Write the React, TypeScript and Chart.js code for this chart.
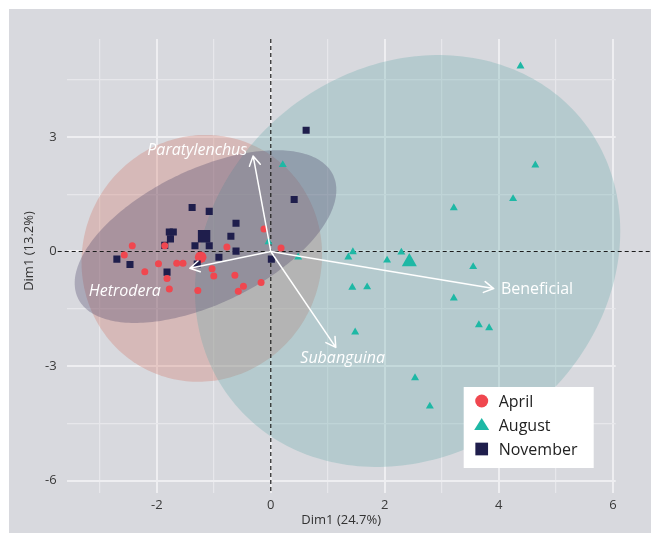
import React, { useEffect, useRef } from 'react';
import { Chart, registerables } from 'chart.js';

Chart.register(...registerables);

// ---------- data ----------
const seriesNames = ['April', 'August', 'November'];

const aprilX = [-0.12, -2.43, -1.86, -0.77, 0.18, -2.57, -1.97, -1.65, -1.54, -2.21, -1.03, -1.82, -1.0, -0.63, -0.17, -0.48, -0.57, -1.28, -1.78];
const aprilY = [0.59, 0.15, 0.15, 0.12, 0.09, -0.09, -0.32, -0.31, -0.31, -0.53, -0.45, -0.71, -0.64, -0.62, -0.81, -0.91, -1.04, -1.02, -0.98];

const augustX = [4.38, 4.64, 4.25, 3.21, 0.21, -0.04, 0.48, 1.44, 1.36, 2.04, 2.29, 3.55, 1.43, 1.69, 3.21, 3.65, 3.83, 1.48, 2.53, 2.79];
const augustY = [4.85, 2.26, 1.38, 1.14, 2.27, 0.25, -0.15, -0.01, -0.15, -0.23, -0.02, -0.4, -0.94, -0.93, -1.22, -1.92, -2.0, -2.11, -3.31, -4.05];

const novemberX = [0.62, 0.41, -1.38, -1.08, -0.61, -1.78, -1.71, -1.76, -0.7, -1.86, -1.33, -1.08, -0.61, -0.91, 0.01, -2.7, -2.47, -1.29, -1.82];
const novemberY = [3.17, 1.36, 1.15, 1.05, 0.74, 0.51, 0.51, 0.33, 0.4, 0.16, 0.15, 0.15, 0.01, -0.15, -0.2, -0.2, -0.34, -0.33, -0.54];

// group centroids (April, August, November)
const centroidX = [-1.23, 2.43, -1.17];
const centroidY = [-0.15, -0.27, 0.4];

// confidence ellipses (data units): centre, half-extent in x and y, correlation
const ellipseCX = [-1.21, 2.4, -1.145];
const ellipseCY = [-0.18, -0.25, 0.39];
const ellipseSX = [2.11, 3.73, 2.295];
const ellipseSY = [3.23, 5.39, 2.26];
const ellipseRho = [0.03, 0.145, 0.54];

// variable loadings (arrows)
const varNames = ['Paratylenchus', 'Beneficial', 'Subanguina', 'Hetrodera'];
const varX = [-0.31, 3.91, 1.14, -1.42];
const varY = [2.5, -0.97, -2.51, -0.44];
const varLabelX = [-1.29, 4.67, 1.26, -2.56];
const varLabelY = [2.65, -0.99, -2.79, -1.04];

// axes
const xRange = [-3.58, 6.05];
const yRange = [-6.32, 5.56];
const xTickLabels = ['-2', '0', '2', '4', '6'];
const yTickLabels = ['-6', '-3', '0', '3'];
const xTitle = 'Dim1 (24.7%)';
const yTitle = 'Dim1 (13.2%)';

// ---------- styles ----------
const FONT = '"Open Sans", "DejaVu Sans", sans-serif';
const pointColors = ['#F0474F', '#1EB8A5', '#1F1E4C'];
const pointShapes = ['circle', 'triangle', 'rect'];
const pointSizes = [3.5, 4.6, 5];
const centroidSizes = [5.8, 8.7, 8.8];
const ellipseFills = ['rgba(209,114,95,0.30)', 'rgba(99,170,169,0.30)', 'rgba(70,60,100,0.31)'];
const italicLabels = [true, false, true, true];

const toPts = (xs: number[], ys: number[]) => xs.map((x, i) => ({ x, y: ys[i] }));

const isLabelled = (v: number, labels: string[]) =>
  labels.includes(String(Math.round(v * 1000) / 1000));

function drawMarker(ctx: CanvasRenderingContext2D, shape: string, x: number, y: number, s: number, color: string) {
  ctx.fillStyle = color;
  ctx.beginPath();
  if (shape === 'circle') {
    ctx.arc(x, y, s / 2, 0, Math.PI * 2);
  } else if (shape === 'triangle') {
    const h = s * 0.8;
    ctx.moveTo(x, y - (h * 2) / 3);
    ctx.lineTo(x + s / 2, y + h / 3);
    ctx.lineTo(x - s / 2, y + h / 3);
    ctx.closePath();
  } else {
    ctx.rect(x - s / 2, y - s / 2, s, s);
  }
  ctx.fill();
}

const biplotPlugin = {
  id: 'biplot',
  beforeDatasetsDraw(chart: any) {
    const { ctx, chartArea, scales } = chart;
    const xs = scales.x;
    const ys = scales.y;
    ctx.save();
    // ellipses
    for (let g = 0; g < ellipseCX.length; g++) {
      const phi = Math.asin(ellipseRho[g]);
      ctx.beginPath();
      for (let i = 0; i <= 240; i++) {
        const t = (i / 240) * Math.PI * 2;
        const px = xs.getPixelForValue(ellipseCX[g] + ellipseSX[g] * Math.cos(t));
        const py = ys.getPixelForValue(ellipseCY[g] + ellipseSY[g] * Math.sin(t + phi));
        if (i === 0) ctx.moveTo(px, py);
        else ctx.lineTo(px, py);
      }
      ctx.closePath();
      ctx.fillStyle = ellipseFills[g];
      ctx.fill();
    }
    // dashed zero lines
    const x0 = xs.getPixelForValue(0);
    const y0 = ys.getPixelForValue(0);
    ctx.strokeStyle = '#1c1c1c';
    ctx.lineWidth = 1.2;
    ctx.setLineDash([4, 3]);
    ctx.beginPath();
    ctx.moveTo(x0, chartArea.top);
    ctx.lineTo(x0, chartArea.bottom);
    ctx.moveTo(chartArea.left - 9, y0);
    ctx.lineTo(chart.width, y0);
    ctx.stroke();
    ctx.restore();
  },
  afterDatasetsDraw(chart: any) {
    const { ctx, chartArea, scales } = chart;
    const xs = scales.x;
    const ys = scales.y;
    ctx.save();
    // arrows
    const ox = xs.getPixelForValue(0);
    const oy = ys.getPixelForValue(0);
    ctx.strokeStyle = '#ffffff';
    ctx.lineWidth = 1.5;
    ctx.lineCap = 'round';
    ctx.lineJoin = 'round';
    for (let i = 0; i < varNames.length; i++) {
      const tx = xs.getPixelForValue(varX[i]);
      const ty = ys.getPixelForValue(varY[i]);
      const a = Math.atan2(ty - oy, tx - ox);
      const len = 11;
      const spread = Math.PI / 6;
      ctx.beginPath();
      ctx.moveTo(ox, oy);
      ctx.lineTo(tx, ty);
      ctx.moveTo(tx - len * Math.cos(a - spread), ty - len * Math.sin(a - spread));
      ctx.lineTo(tx, ty);
      ctx.lineTo(tx - len * Math.cos(a + spread), ty - len * Math.sin(a + spread));
      ctx.stroke();
    }
    // labels
    ctx.fillStyle = '#ffffff';
    ctx.textAlign = 'center';
    ctx.textBaseline = 'middle';
    for (let i = 0; i < varNames.length; i++) {
      ctx.font = `${italicLabels[i] ? 'italic ' : ''}16px ${FONT}`;
      ctx.fillText(varNames[i], xs.getPixelForValue(varLabelX[i]), ys.getPixelForValue(varLabelY[i]));
    }
    // legend
    const bw = 130;
    const bh = 81;
    const bx = chartArea.right - 22 - bw;
    const by = chartArea.bottom - 25 - bh;
    ctx.fillStyle = '#ffffff';
    ctx.fillRect(bx, by, bw, bh);
    const legendMarker = [13, 15, 12.7];
    for (let i = 0; i < seriesNames.length; i++) {
      const cy = by + 14 + i * 24;
      drawMarker(ctx, pointShapes[i], bx + 18, cy + (i === 1 ? 1 : 0), legendMarker[i], pointColors[i]);
      ctx.fillStyle = '#222222';
      ctx.font = `16px ${FONT}`;
      ctx.textAlign = 'left';
      ctx.textBaseline = 'middle';
      ctx.fillText(seriesNames[i], bx + 35, cy + 1);
    }
    // axis titles
    ctx.fillStyle = '#333333';
    ctx.font = `13px ${FONT}`;
    ctx.textAlign = 'center';
    ctx.textBaseline = 'middle';
    ctx.fillText(xTitle, (chartArea.left + chartArea.right) / 2, chartArea.bottom + 27);
    ctx.translate(chartArea.left - 37, (chartArea.top + chartArea.bottom) / 2 - 15);
    ctx.rotate(-Math.PI / 2);
    ctx.fillText(yTitle, 0, 0);
    ctx.restore();
  },
};

export default function App() {
  const canvasRef = useRef<HTMLCanvasElement | null>(null);

  useEffect(() => {
    document.body.style.margin = '0';
    const canvas = canvasRef.current;
    if (!canvas) return;

    const pointSets = [toPts(aprilX, aprilY), toPts(augustX, augustY), toPts(novemberX, novemberY)];
    const datasets: any[] = [];
    for (let i = 0; i < 3; i++) {
      datasets.push({
        label: seriesNames[i],
        data: pointSets[i],
        pointStyle: pointShapes[i],
        pointRadius: pointSizes[i],
        backgroundColor: pointColors[i],
        borderColor: pointColors[i],
        borderWidth: 0,
      });
    }
    for (let i = 0; i < 3; i++) {
      datasets.push({
        label: seriesNames[i] + ' centroid',
        data: [{ x: centroidX[i], y: centroidY[i] }],
        pointStyle: pointShapes[i],
        pointRadius: centroidSizes[i],
        backgroundColor: pointColors[i],
        borderColor: pointColors[i],
        borderWidth: 0,
      });
    }

    const gridColor = (ctx: any, labels: string[]) =>
      ctx.tick && isLabelled(ctx.tick.value, labels) ? '#EEEEF1' : '#E7E7EB';
    const gridWidth = (ctx: any, labels: string[]) =>
      ctx.tick && isLabelled(ctx.tick.value, labels) ? 2 : 1.2;

    const chart = new Chart(canvas, {
      type: 'scatter',
      data: { datasets },
      plugins: [biplotPlugin],
      options: {
        animation: false,
        responsive: false,
        maintainAspectRatio: false,
        devicePixelRatio: 1,
        layout: { padding: { top: 30, right: 35.3, left: 0, bottom: 0 } },
        plugins: { legend: { display: false }, tooltip: { enabled: false } },
        scales: {
          x: {
            type: 'linear',
            min: xRange[0],
            max: xRange[1],
            afterFit: (s: any) => {
              s.height = 40;
            },
            border: { display: false },
            grid: {
              drawTicks: false,
              color: (c: any) => gridColor(c, xTickLabels),
              lineWidth: (c: any) => gridWidth(c, xTickLabels),
            },
            ticks: {
              stepSize: 1,
              includeBounds: false,
              autoSkip: false,
              maxRotation: 0,
              padding: 4,
              color: '#3a3a3a',
              font: { family: FONT, size: 13 },
              callback: (v: any) => (isLabelled(Number(v), xTickLabels) ? String(Math.round(Number(v))) : ''),
            },
          },
          y: {
            type: 'linear',
            min: yRange[0],
            max: yRange[1],
            afterFit: (s: any) => {
              s.width = 57.7;
            },
            border: { display: false },
            grid: {
              drawTicks: false,
              color: (c: any) => gridColor(c, yTickLabels),
              lineWidth: (c: any) => gridWidth(c, yTickLabels),
            },
            ticks: {
              stepSize: 1.5,
              includeBounds: false,
              autoSkip: false,
              padding: 10,
              color: '#3a3a3a',
              font: { family: FONT, size: 13 },
              callback: (v: any) => (isLabelled(Number(v), yTickLabels) ? String(Math.round(Number(v))) : ''),
            },
          },
        },
      },
    } as any);

    return () => chart.destroy();
  }, []);

  return (
    <div style={{ width: 651, height: 533, background: '#ffffff', paddingLeft: 9, paddingTop: 9, boxSizing: 'border-box', overflow: 'hidden' }}>
      <canvas ref={canvasRef} width={642} height={524} style={{ display: 'block', background: '#D8D9DE' }} />
    </div>
  );
}
